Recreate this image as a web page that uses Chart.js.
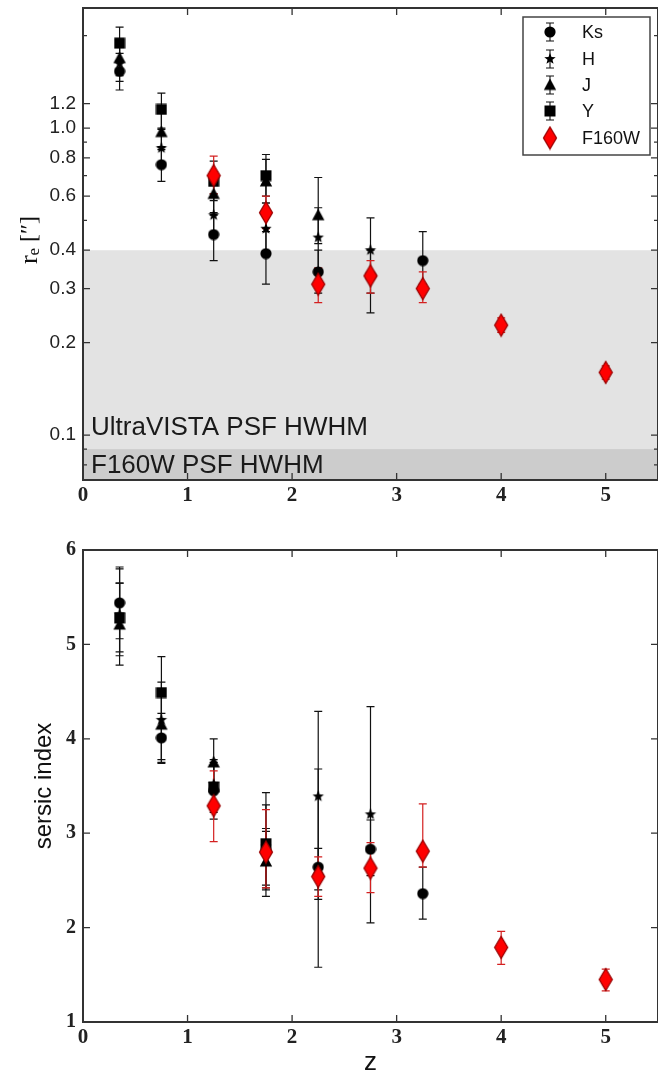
<!DOCTYPE html>
<html>
<head>
<meta charset="utf-8">
<script src="https://cdn.jsdelivr.net/npm/chart.js@4.4.0/dist/chart.umd.min.js"></script>
<style>
body { margin: 0; background: #fff; width: 658px; height: 1076px; overflow: hidden; position: relative; }
canvas { position: absolute; left: 0; }
</style>
</head>
<body>
<canvas id="reChart" width="658" height="510" style="top:0"></canvas>
<canvas id="nChart" width="658" height="566" style="top:510px"></canvas>
<script>
// redshift bins
const zBins = [0.35, 0.75, 1.25, 1.75, 2.25, 2.75, 3.25];
const zF160 = [1.25, 1.75, 2.25, 2.75, 3.25, 4.0, 5.0];

// effective radius r_e [arcsec] with lower / upper error ends
const reKs   = [1.53, 0.76, 0.45, 0.39, 0.34, 0.33, 0.37];
const reKsLo = [1.33, 0.67, 0.37, 0.31, 0.29, 0.25, 0.31];
const reKsHi = [1.75, 0.87, 0.53, 0.46, 0.40, 0.40, 0.46];
const reH    = [1.62, 0.86, 0.52, 0.47, 0.44, 0.40];
const reHLo  = [1.42, 0.75, 0.44, 0.39, 0.35, 0.29];
const reHHi  = [1.88, 0.99, 0.61, 0.57, 0.55, 0.51];
const reJ    = [1.69, 0.97, 0.61, 0.67, 0.52];
const reJLo  = [1.48, 0.85, 0.52, 0.57, 0.42];
const reJHi  = [1.95, 1.12, 0.72, 0.79, 0.69];
const reY    = [1.89, 1.15, 0.67, 0.70];
const reYLo  = [1.66, 1.00, 0.58, 0.60];
const reYHi  = [2.13, 1.30, 0.78, 0.82];
const reF    = [0.70, 0.53, 0.31, 0.33, 0.30, 0.228, 0.160];
const reFLo  = [0.61, 0.47, 0.27, 0.29, 0.27, 0.216, 0.152];
const reFHi  = [0.81, 0.60, 0.35, 0.37, 0.34, 0.241, 0.168];

// sersic index
const nKs   = [5.44, 4.01, 3.45, 2.82, 2.64, 2.83, 2.36];
const nKsLo = [5.06, 3.74, 3.15, 2.45, 2.40, 2.55, 2.09];
const nKsHi = [5.82, 4.27, 3.72, 3.05, 2.84, 3.14, 2.64];
const nH    = [5.32, 4.20, 3.52, 2.86, 3.39, 3.20];
const nHLo  = [4.92, 3.78, 3.25, 2.40, 1.58, 2.05];
const nHHi  = [5.65, 4.60, 3.78, 3.30, 4.29, 4.34];
const nJ    = [5.21, 4.15, 3.75, 2.70, 2.60];
const nJLo  = [4.88, 3.75, 3.48, 2.33, 2.30];
const nJHi  = [5.65, 4.45, 4.00, 3.02, 3.68];
const nY    = [5.28, 4.49, 3.49, 2.89];
const nYLo  = [4.78, 4.12, 3.22, 2.42];
const nYHi  = [5.80, 4.87, 3.75, 3.43];
const nF    = [3.29, 2.80, 2.54, 2.63, 2.81, 1.79, 1.45];
const nFLo  = [2.91, 2.42, 2.33, 2.37, 2.64, 1.61, 1.33];
const nFHi  = [3.66, 3.25, 2.75, 2.90, 3.31, 1.96, 1.56];

// PSF half width half max [arcsec]
const psfVista = 0.4;
const psfF160 = 0.09;

// ticks
const zTicks = [0, 1, 2, 3, 4, 5];
const reTickValues = [0.08, 0.09, 0.1, 0.2, 0.3, 0.4, 0.5, 0.6, 0.7, 0.8, 0.9, 1.0, 1.2, 2.0];
const reTickLabels = ['', '', '0.1', '0.2', '0.3', '0.4', '', '0.6', '', '0.8', '', '1.0', '1.2', ''];
const nTicks = [1, 2, 3, 4, 5, 6];

const bandNames = ['Ks', 'H', 'J', 'Y', 'F160W'];

// marker images
function marker(w, h, path, fill, stroke) {
    const c = document.createElement('canvas');
    c.width = w; c.height = h;
    const g = c.getContext('2d');
    g.beginPath();
    path(g, w / 2, h / 2);
    g.closePath();
    g.fillStyle = fill;
    g.fill();
    if (stroke) { g.strokeStyle = stroke; g.lineWidth = 1.3; g.stroke(); }
    return c;
}
const mCircle = marker(12, 12, (g, cx, cy) => g.arc(cx, cy, 5.6, 0, Math.PI * 2), '#000');
const mSquare = marker(12, 12, (g, cx, cy) => g.rect(cx - 5.5, cy - 5.5, 11, 11), '#000');
const mTriangle = marker(14, 13, (g, cx, cy) => {
    g.moveTo(cx, cy - 6.5); g.lineTo(cx + 6.2, cy + 5); g.lineTo(cx - 6.2, cy + 5);
}, '#000');
const mStar = marker(14, 14, (g, cx, cy) => {
    for (let i = 0; i < 10; i++) {
        const a = -Math.PI / 2 + i * Math.PI / 5;
        const r = i % 2 ? 2.6 : 6;
        g.lineTo(cx + r * Math.cos(a), cy + r * Math.sin(a));
    }
}, '#000');
const mDiamond = marker(16, 25, (g, cx, cy) => {
    g.moveTo(cx, cy - 11); g.lineTo(cx + 6.5, cy); g.lineTo(cx, cy + 11); g.lineTo(cx - 6.5, cy);
}, '#ff0000', '#9a0000');
const markers = [mCircle, mStar, mTriangle, mSquare, mDiamond];

function pts(zs, v, lo, hi) {
    return v.map((val, i) => ({ x: zs[i], y: val, lo: lo[i], hi: hi[i] }));
}

function makeSets(series) {
    return series.map((d, i) => ({
        label: bandNames[i],
        data: d,
        pointStyle: markers[i],
        pointRadius: 6,
        errColor: i === 4 ? '#d42020' : '#111',
        order: 4 - i
    }));
}

const errorBars = {
    id: 'errorBars',
    beforeDatasetsDraw(chart) {
        const { ctx, scales: { x, y } } = chart;
        ctx.save();
        ctx.lineWidth = 1.2;
        chart.data.datasets.forEach(ds => {
            ctx.strokeStyle = ds.errColor;
            ds.data.forEach(p => {
                const px = x.getPixelForValue(p.x);
                const y1 = y.getPixelForValue(p.lo);
                const y2 = y.getPixelForValue(p.hi);
                ctx.beginPath();
                ctx.moveTo(px, y1); ctx.lineTo(px, y2);
                ctx.moveTo(px - 4, y1); ctx.lineTo(px + 4, y1);
                ctx.moveTo(px - 4, y2); ctx.lineTo(px + 4, y2);
                ctx.stroke();
            });
        });
        ctx.restore();
    }
};

const frame = {
    id: 'frame',
    afterDatasetsDraw(chart) {
        const { ctx, chartArea: a, scales: { x, y } } = chart;
        ctx.save();
        ctx.strokeStyle = '#333';
        ctx.lineWidth = 1.3;
        ctx.beginPath();
        x.ticks.forEach(t => {
            const px = x.getPixelForValue(t.value);
            ctx.moveTo(px, a.bottom); ctx.lineTo(px, a.bottom - 7);
            ctx.moveTo(px, a.top); ctx.lineTo(px, a.top + 7);
        });
        y.ticks.forEach(t => {
            const py = y.getPixelForValue(t.value);
            const len = t.label === '' ? 4 : 7;
            ctx.moveTo(a.left, py); ctx.lineTo(a.left + len, py);
            ctx.moveTo(a.right, py); ctx.lineTo(a.right - len, py);
        });
        ctx.stroke();
        ctx.lineWidth = 2;
        ctx.strokeRect(a.left, a.top, a.right - a.left, a.bottom - a.top);
        ctx.restore();
    }
};

const psfBands = {
    id: 'psfBands',
    beforeDatasetsDraw(chart) {
        const { ctx, chartArea: a, scales: { y } } = chart;
        const yv = y.getPixelForValue(psfVista);
        const yf = y.getPixelForValue(psfF160);
        ctx.save();
        ctx.fillStyle = '#e3e3e3';
        ctx.fillRect(a.left, yv, a.right - a.left, a.bottom - yv);
        ctx.fillStyle = '#cccccc';
        ctx.fillRect(a.left, yf, a.right - a.left, a.bottom - yf);
        ctx.fillStyle = '#1a1a1a';
        ctx.font = '26px "Liberation Sans"';
        ctx.textBaseline = 'middle';
        ctx.fillText('UltraVISTA PSF HWHM', a.left + 8, yf - 21);
        ctx.fillText('F160W PSF HWHM', a.left + 8, (yf + a.bottom) / 2 + 1);
        ctx.restore();
    }
};

const legendBox = {
    id: 'legendBox',
    afterDraw(chart) {
        const { ctx } = chart;
        const rows = [32, 59, 85, 111, 138];
        ctx.save();
        ctx.fillStyle = '#fff';
        ctx.fillRect(523, 17, 127, 138);
        ctx.strokeStyle = '#444';
        ctx.lineWidth = 1.5;
        ctx.strokeRect(523, 17, 127, 138);
        ctx.font = '18px "Liberation Sans"';
        ctx.textBaseline = 'middle';
        rows.forEach((ry, i) => {
            if (i < 4) {
                ctx.strokeStyle = '#111';
                ctx.lineWidth = 1.1;
                ctx.beginPath();
                ctx.moveTo(550, ry - 9); ctx.lineTo(550, ry + 9);
                ctx.moveTo(546, ry - 9); ctx.lineTo(554, ry - 9);
                ctx.moveTo(546, ry + 9); ctx.lineTo(554, ry + 9);
                ctx.stroke();
            }
            const m = markers[i];
            ctx.drawImage(m, 550 - m.width / 2, ry - m.height / 2);
            ctx.fillStyle = '#111';
            ctx.fillText(bandNames[i], 582, ry + 1);
        });
        ctx.restore();
    }
};

function rotatedLabel(ctx, x, y, parts) {
    ctx.save();
    ctx.translate(x, y);
    ctx.rotate(-Math.PI / 2);
    ctx.fillStyle = '#111';
    ctx.textBaseline = 'middle';
    let total = 0;
    parts.forEach(p => { ctx.font = p.font; total += ctx.measureText(p.text).width; });
    let cx = -total / 2;
    parts.forEach(p => {
        ctx.font = p.font;
        ctx.fillText(p.text, cx, p.dy || 0);
        cx += ctx.measureText(p.text).width;
    });
    ctx.restore();
}

const reTitle = {
    id: 'reTitle',
    afterDraw(chart) {
        rotatedLabel(chart.ctx, 30, 240, [
            { text: 'r', font: '26px "Liberation Serif"' },
            { text: 'e', font: '17px "Liberation Serif"', dy: 5 },
            { text: ' [\u2033]', font: '24px "Liberation Serif"' }
        ]);
    }
};

const nTitle = {
    id: 'nTitle',
    afterDraw(chart) {
        rotatedLabel(chart.ctx, 44, 276, [{ text: 'sersic index', font: '24px "Liberation Sans"' }]);
        const ctx = chart.ctx;
        ctx.save();
        ctx.fillStyle = '#111';
        ctx.font = '26px "Liberation Sans"';
        ctx.textAlign = 'center';
        ctx.textBaseline = 'middle';
        ctx.fillText('z', (chart.chartArea.left + chart.chartArea.right) / 2, 553);
        ctx.restore();
    }
};

function xAxis(h) {
    return {
        type: 'linear', min: 0, max: 5.5,
        grid: { display: false, drawTicks: false },
        border: { display: false },
        afterBuildTicks: s => { s.ticks = zTicks.map(v => ({ value: v })); },
        afterFit: s => { s.height = h; s.paddingLeft = 0; s.paddingRight = 0; },
        ticks: {
            font: { family: '"Liberation Serif"', size: 21, weight: 'bold' },
            color: '#222', padding: 3, maxRotation: 0, autoSkip: false
        }
    };
}

new Chart(document.getElementById('reChart'), {
    type: 'scatter',
    data: {
        datasets: makeSets([
            pts(zBins, reKs, reKsLo, reKsHi),
            pts(zBins, reH, reHLo, reHHi),
            pts(zBins, reJ, reJLo, reJHi),
            pts(zBins, reY, reYLo, reYHi),
            pts(zF160, reF, reFLo, reFHi)
        ])
    },
    options: {
        responsive: false,
        animation: false,
        devicePixelRatio: 1,
        layout: { autoPadding: false, padding: { top: 8, right: 0, left: 0, bottom: 0 } },
        plugins: { legend: { display: false }, tooltip: { enabled: false } },
        scales: {
            x: xAxis(30),
            y: {
                type: 'logarithmic', min: 0.0714, max: 2.46,
                grid: { display: false, drawTicks: false },
                border: { display: false },
                afterBuildTicks: s => { s.ticks = reTickValues.map(v => ({ value: v })); },
                afterFit: s => { s.width = 83; s.paddingTop = 0; s.paddingBottom = 0; },
                ticks: {
                    callback: (v, i) => reTickLabels[i],
                    font: { family: '"Liberation Sans"', size: 19 },
                    color: '#222', padding: 7, autoSkip: false
                }
            }
        }
    },
    plugins: [psfBands, errorBars, frame, legendBox, reTitle]
});

new Chart(document.getElementById('nChart'), {
    type: 'scatter',
    data: {
        datasets: makeSets([
            pts(zBins, nKs, nKsLo, nKsHi),
            pts(zBins, nH, nHLo, nHHi),
            pts(zBins, nJ, nJLo, nJHi),
            pts(zBins, nY, nYLo, nYHi),
            pts(zF160, nF, nFLo, nFHi)
        ])
    },
    options: {
        responsive: false,
        animation: false,
        devicePixelRatio: 1,
        layout: { autoPadding: false, padding: { top: 40, right: 0, left: 0, bottom: 0 } },
        plugins: { legend: { display: false }, tooltip: { enabled: false } },
        scales: {
            x: xAxis(54),
            y: {
                type: 'linear', min: 1, max: 6,
                grid: { display: false, drawTicks: false },
                border: { display: false },
                afterBuildTicks: s => { s.ticks = nTicks.map(v => ({ value: v })); },
                afterFit: s => { s.width = 83; s.paddingTop = 0; s.paddingBottom = 0; },
                ticks: {
                    font: { family: '"Liberation Serif"', size: 20, weight: 'bold' },
                    color: '#222', padding: 7, autoSkip: false
                }
            }
        }
    },
    plugins: [errorBars, frame, nTitle]
});
</script>
</body>
</html>
